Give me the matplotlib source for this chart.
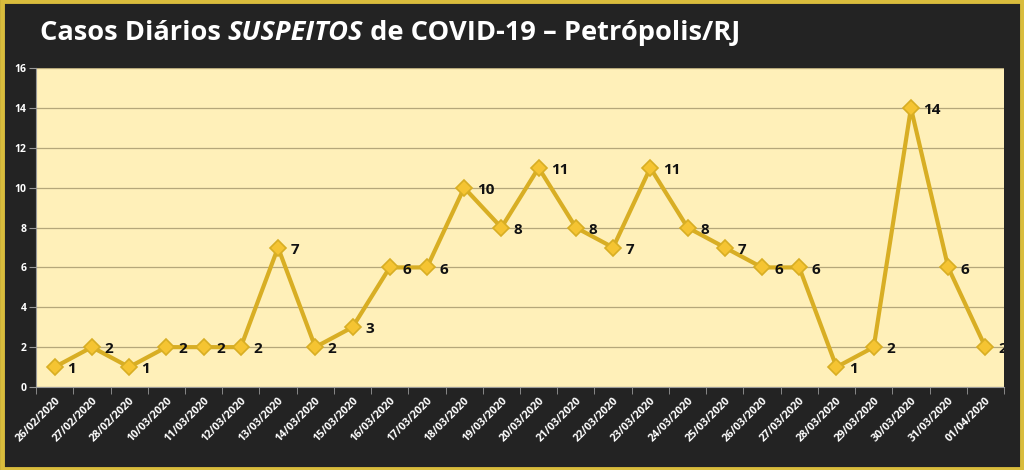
import matplotlib
matplotlib.use("Agg")
import matplotlib.pyplot as plt
from matplotlib.patches import Rectangle

plt.rcParams['font.family'] = ['Open Sans', 'DejaVu Sans']

dates = ['26/02/2020', '27/02/2020', '28/02/2020', '10/03/2020', '11/03/2020',
         '12/03/2020', '13/03/2020', '14/03/2020', '15/03/2020', '16/03/2020',
         '17/03/2020', '18/03/2020', '19/03/2020', '20/03/2020', '21/03/2020',
         '22/03/2020', '23/03/2020', '24/03/2020', '25/03/2020', '26/03/2020',
         '27/03/2020', '28/03/2020', '29/03/2020', '30/03/2020', '31/03/2020',
         '01/04/2020']
casos = [1, 2, 1, 2, 2, 2, 7, 2, 3, 6, 6, 10, 8, 11, 8, 7, 11, 8, 7, 6, 6, 1, 2, 14, 6, 2]
y_ticks = [0, 2, 4, 6, 8, 10, 12, 14, 16]

bg = '#232323'
fig = plt.figure(figsize=(10.24, 4.70), dpi=100, facecolor=bg)
ax = fig.add_axes([0.0352, 0.1766, 0.9453, 0.6784])
ax.set_facecolor('#FFF0B9')

x = list(range(len(dates)))
ax.plot(x, casos, color='#D8AE24', lw=3, marker='D', ms=8,
        mfc='#F5C432', mec='#D8AE24', mew=1.2, zorder=3)
for xi, yi in zip(x, casos):
    ax.annotate(str(yi), (xi, yi), xytext=(9, -1.5), textcoords='offset points',
                fontsize=11, fontweight='bold', color='#111111', va='center',
                annotation_clip=False, clip_on=True)

ax.set_xlim(-0.5, len(dates) - 0.5)
ax.set_ylim(0, 16)
ax.set_yticks(y_ticks)
ax.set_yticklabels([str(v) for v in y_ticks], color='white', fontsize=7.5, fontweight='bold')
ax.yaxis.grid(True, color='#B5A77A', lw=0.9)
ax.set_axisbelow(True)

ax.set_xticks(x)
ax.set_xticklabels(dates, rotation=45, ha='right', rotation_mode='anchor',
                   color='white', fontsize=7.8, fontweight='bold')
ax.tick_params(axis='x', which='major', length=0, pad=6)
ax.set_xticks([i + 0.5 for i in range(-1, len(dates))], minor=True)
ax.tick_params(axis='x', which='minor', length=5, color='#999999', direction='out')
ax.tick_params(axis='y', length=5, color='#999999', pad=2)

for s in ['top', 'right']:
    ax.spines[s].set_visible(False)
ax.spines['left'].set_color('#999999')
ax.spines['bottom'].set_color('#999999')

# title in three pieces so the middle word can be italic
title = [('Casos Diários ', 'normal'), ('SUSPEITOS', 'italic'),
         (' de COVID-19 – Petrópolis/RJ', 'normal')]
xpos = 0.039
renderer = fig.canvas.get_renderer()
for txt, style in title:
    t = fig.text(xpos, 0.93, txt, color='white', fontsize=19.6, fontweight='bold',
                 style=style, va='center', ha='left')
    bb = t.get_window_extent(renderer=renderer)
    xpos += bb.width / fig.bbox.width

fig.patches.append(Rectangle((0.002, 0.003), 0.996, 0.994, transform=fig.transFigure,
                             fill=False, ec='#D9BC3C', lw=3.5))

fig.savefig('out.png', dpi=100, facecolor=bg)
